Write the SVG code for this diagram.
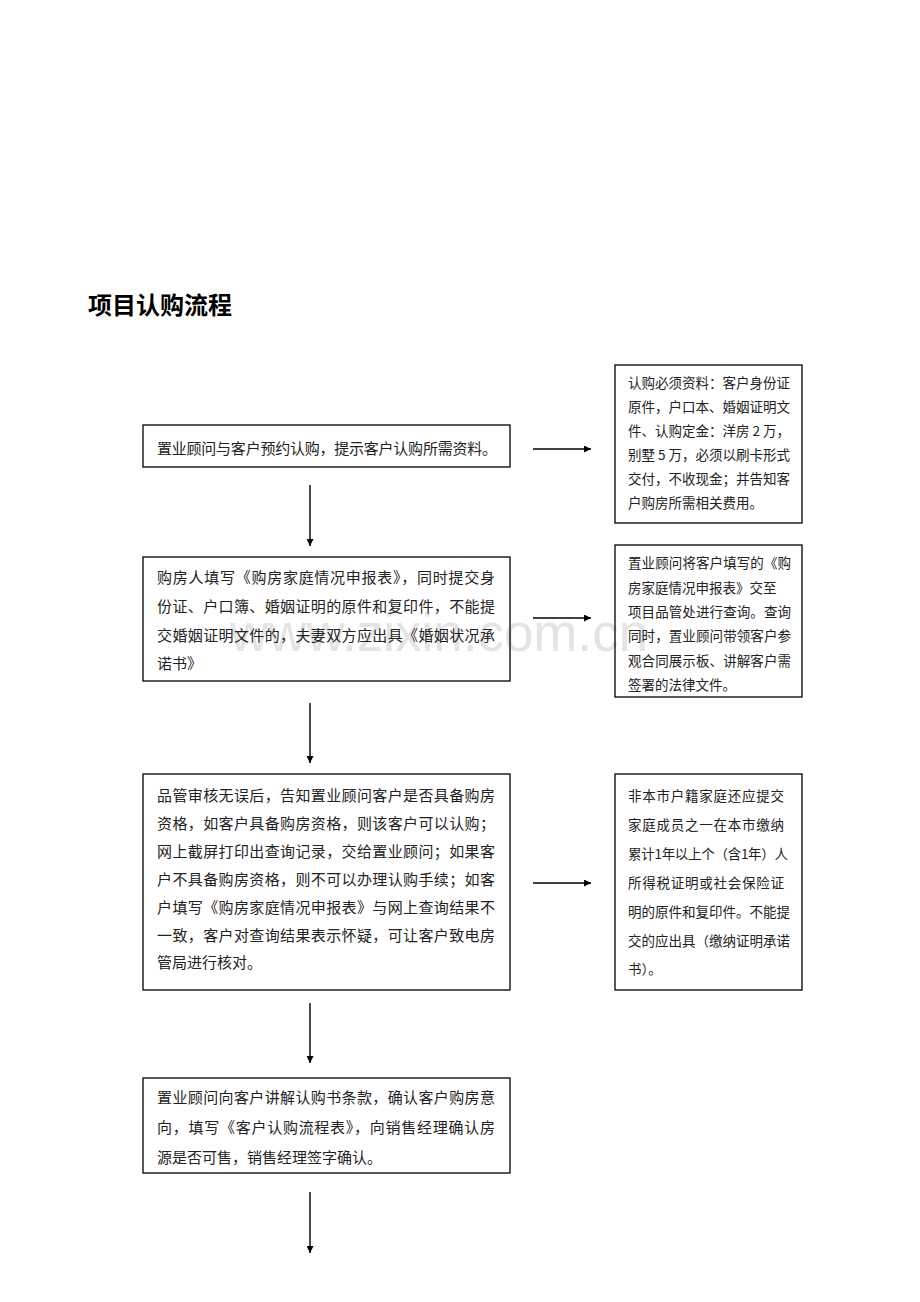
<svg xmlns="http://www.w3.org/2000/svg" width="920" height="1302" viewBox="0 0 920 1302">
<style>
.box{fill:none;stroke:#000;stroke-width:1.3}
.t{font-family:"Noto Sans CJK SC","Liberation Serif",sans-serif;font-size:15px;fill:#222}
.s{font-family:"Noto Sans CJK SC","Liberation Serif",sans-serif;font-size:13.5px;fill:#222}
.title{font-family:"Noto Sans CJK SC",sans-serif;font-size:24px;font-weight:bold;fill:#000}
.wm{font-family:"Liberation Sans",Arial,sans-serif;font-size:53px;fill:#e4e4e4}
.c{stroke:#000;stroke-width:1.4;fill:none}
</style>
<defs>
<marker id="ah" viewBox="0 0 10 10" refX="10" refY="5" markerWidth="7" markerHeight="7" markerUnits="userSpaceOnUse" orient="auto">
<path d="M0,0 L10,5 L0,10 Z" fill="#000"/>
</marker>
</defs>
<rect width="920" height="1302" fill="#fff"/>
<text class="wm" x="230" y="651">www.zixin.com.cn</text>
<text class="title" x="88" y="314">项目认购流程</text>

<g id="n1">
<rect class="box" x="143" y="425" width="367" height="42"/>
<text class="t" x="157" y="454" textLength="340" lengthAdjust="spacing">置业顾问与客户预约认购，提示客户认购所需资料。</text>
</g>
<g id="r1">
<rect class="box" x="615" y="365" width="187" height="158"/>
<text class="s" x="628" y="388" textLength="162" lengthAdjust="spacing">认购必须资料：客户身份证</text>
<text class="s" x="628" y="412" textLength="162" lengthAdjust="spacing">原件，户口本、婚姻证明文</text>
<text class="s" x="628" y="436" textLength="162" lengthAdjust="spacing">件、认购定金：洋房 2 万，</text>
<text class="s" x="628" y="460" textLength="162" lengthAdjust="spacing">别墅 5 万，必须以刷卡形式</text>
<text class="s" x="628" y="484" textLength="162" lengthAdjust="spacing">交付，不收现金；并告知客</text>
<text class="s" x="628" y="508">户购房所需相关费用。</text>
</g>

<g id="n2">
<rect class="box" x="143" y="557" width="367" height="124"/>
<text class="t" x="157" y="583" textLength="338" lengthAdjust="spacing">购房人填写《购房家庭情况申报表》，同时提交身</text>
<text class="t" x="157" y="612" textLength="338" lengthAdjust="spacing">份证、户口簿、婚姻证明的原件和复印件，不能提</text>
<text class="t" x="157" y="641" textLength="338" lengthAdjust="spacing">交婚姻证明文件的，夫妻双方应出具《婚姻状况承</text>
<text class="t" x="157" y="669">诺书》</text>
</g>
<g id="r2">
<rect class="box" x="615" y="545" width="187" height="152"/>
<text class="s" x="628" y="568" textLength="163" lengthAdjust="spacing">置业顾问将客户填写的《购</text>
<text class="s" x="628" y="593">房家庭情况申报表》交至</text>
<text class="s" x="628" y="617" textLength="163" lengthAdjust="spacing">项目品管处进行查询。查询</text>
<text class="s" x="628" y="641" textLength="163" lengthAdjust="spacing">同时，置业顾问带领客户参</text>
<text class="s" x="628" y="666" textLength="163" lengthAdjust="spacing">观合同展示板、讲解客户需</text>
<text class="s" x="628" y="690">签署的法律文件。</text>
</g>

<g id="n3">
<rect class="box" x="143" y="774" width="367" height="216"/>
<text class="t" x="157" y="801" textLength="338" lengthAdjust="spacing">品管审核无误后，告知置业顾问客户是否具备购房</text>
<text class="t" x="157" y="829" textLength="338" lengthAdjust="spacing">资格，如客户具备购房资格，则该客户可以认购；</text>
<text class="t" x="157" y="857" textLength="338" lengthAdjust="spacing">网上截屏打印出查询记录，交给置业顾问；如果客</text>
<text class="t" x="157" y="885" textLength="338" lengthAdjust="spacing">户不具备购房资格，则不可以办理认购手续；如客</text>
<text class="t" x="157" y="913" textLength="338" lengthAdjust="spacing">户填写《购房家庭情况申报表》与网上查询结果不</text>
<text class="t" x="157" y="941" textLength="338" lengthAdjust="spacing">一致，客户对查询结果表示怀疑，可让客户致电房</text>
<text class="t" x="157" y="968">管局进行核对。</text>
</g>
<g id="r3">
<rect class="box" x="615" y="774" width="187" height="216"/>
<text class="s" x="628" y="801" textLength="156" lengthAdjust="spacing">非本市户籍家庭还应提交</text>
<text class="s" x="628" y="830" textLength="156" lengthAdjust="spacing">家庭成员之一在本市缴纳</text>
<text class="s" x="628" y="859" textLength="160" lengthAdjust="spacing">累计1年以上个（含1年）人</text>
<text class="s" x="628" y="888" textLength="156" lengthAdjust="spacing">所得税证明或社会保险证</text>
<text class="s" x="628" y="917" textLength="162" lengthAdjust="spacing">明的原件和复印件。不能提</text>
<text class="s" x="628" y="946" textLength="162" lengthAdjust="spacing">交的应出具（缴纳证明承诺</text>
<text class="s" x="628" y="974">书）。</text>
</g>

<g id="n4">
<rect class="box" x="143" y="1078" width="367" height="95"/>
<text class="t" x="157" y="1103" textLength="338" lengthAdjust="spacing">置业顾问向客户讲解认购书条款，确认客户购房意</text>
<text class="t" x="157" y="1133" textLength="338" lengthAdjust="spacing">向，填写《客户认购流程表》，向销售经理确认房</text>
<text class="t" x="157" y="1163">源是否可售，销售经理签字确认。</text>
</g>

<g id="connectors">
<line class="c" x1="533" y1="449" x2="591" y2="449" marker-end="url(#ah)"/>
<line class="c" x1="533" y1="618" x2="591" y2="618" marker-end="url(#ah)"/>
<line class="c" x1="533" y1="883" x2="591" y2="883" marker-end="url(#ah)"/>
<line class="c" x1="310" y1="485" x2="310" y2="546" marker-end="url(#ah)"/>
<line class="c" x1="310" y1="703" x2="310" y2="763" marker-end="url(#ah)"/>
<line class="c" x1="310" y1="1003" x2="310" y2="1063" marker-end="url(#ah)"/>
<line class="c" x1="310" y1="1192" x2="310" y2="1253" marker-end="url(#ah)"/>
</g>
</svg>
